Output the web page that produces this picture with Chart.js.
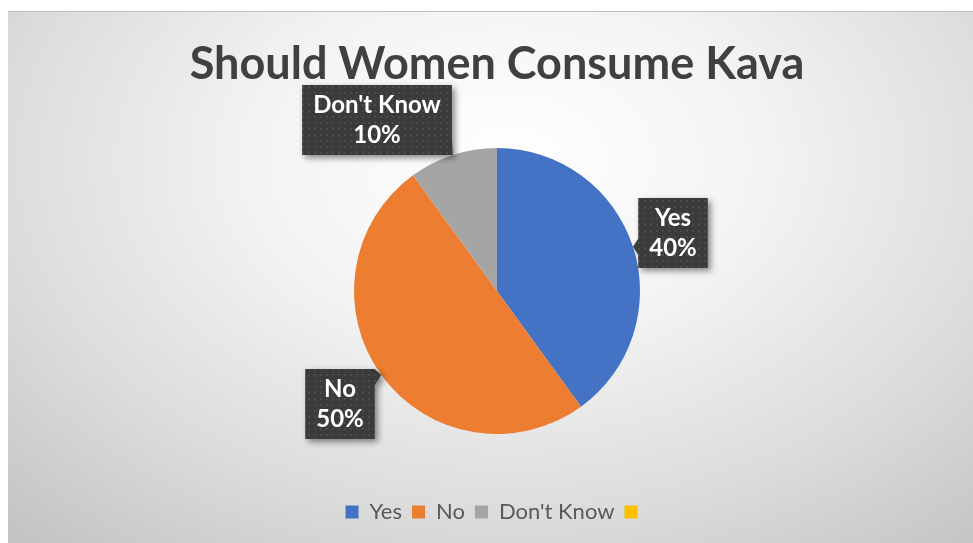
<!DOCTYPE html>
<html>
<head>
<meta charset="utf-8">
<script src="https://cdn.jsdelivr.net/npm/chart.js@4"></script>
<style>
  html, body { margin: 0; padding: 0; background: #fff; }
  #frame {
    position: absolute; left: 8px; top: 11px; width: 965px; height: 532px;
    border-top: 1px solid #bdbdbd; box-sizing: border-box;
    background: radial-gradient(ellipse 75% 95% at 52% 28%, #ffffff 0%, #f3f3f3 35%, #dcdcdc 70%, #c4c4c4 100%);
  }
  #wrap { position: absolute; left: 0; top: 0; width: 973px; height: 543px; }
</style>
</head>
<body>
<div id="frame"></div>
<div id="wrap"><canvas id="kava"></canvas></div>
<script>
// données
const categories = ['Yes', 'No', "Don't Know", ''];
const shares = [40, 50, 10, 0];
const sliceColors = ['#4472C4', '#ED7D31', '#A5A5A5', '#FFC000'];

// motif pointillé des étiquettes
function dotPattern(ctx) {
  const c = document.createElement('canvas');
  c.width = 6; c.height = 6;
  const g = c.getContext('2d');
  g.fillStyle = '#3b3b3b';
  g.fillRect(0, 0, 6, 6);
  g.fillStyle = '#4b4b4b';
  g.fillRect(2, 2, 2, 2);
  return ctx.createPattern(c, 'repeat');
}

// étiquettes "bulle" façon Excel
const callouts = {
  id: 'callouts',
  afterDatasetsDraw(chart, args, opts) {
    const ctx = chart.ctx;
    const meta = chart.getDatasetMeta(0);
    const fill = dotPattern(ctx);
    meta.data.forEach((arc, i) => {
      const v = shares[i];
      if (!v) return;
      const p = arc.getProps(['x', 'y', 'startAngle', 'endAngle', 'outerRadius'], true);
      const mid = (p.startAngle + p.endAngle) / 2;
      const ax = p.x + Math.cos(mid) * p.outerRadius;
      const ay = p.y + Math.sin(mid) * p.outerRadius;
      const [ox, oy] = opts.offsets[i];
      const cx = p.x + ox, cy = p.y + oy;

      ctx.save();
      ctx.font = 'bold 24px Lato';
      const lines = [categories[i], v + '%'];
      const w = Math.max(...lines.map(t => ctx.measureText(t).width)) + 22;
      const h = 70;
      const l = cx - w / 2, r = cx + w / 2, t = cy - h / 2, b = cy + h / 2;

      // côté du pointeur
      const d = { left: l - ax, right: ax - r, top: t - ay, bottom: ay - b };
      const side = Object.keys(d).reduce((a, k) => d[k] > d[a] ? k : a, 'left');
      const clamp = (val, lo, hi) => Math.max(lo, Math.min(hi, val));
      const half = 8;

      ctx.beginPath();
      ctx.moveTo(l, t);
      if (side === 'top') {
        const m = clamp(ax, l + half, r - half);
        ctx.lineTo(m - half, t); ctx.lineTo(ax, ay); ctx.lineTo(m + half, t);
      }
      ctx.lineTo(r, t);
      if (side === 'right') {
        const m = clamp(ay, t + half, b - half);
        ctx.lineTo(r, m - half); ctx.lineTo(ax, ay); ctx.lineTo(r, m + half);
      }
      ctx.lineTo(r, b);
      if (side === 'bottom') {
        const m = clamp(ax, l + half, r - half);
        ctx.lineTo(m + half, b); ctx.lineTo(ax, ay); ctx.lineTo(m - half, b);
      }
      ctx.lineTo(l, b);
      if (side === 'left') {
        const m = clamp(ay, t + half, b - half);
        ctx.lineTo(l, m + half); ctx.lineTo(ax, ay); ctx.lineTo(l, m - half);
      }
      ctx.closePath();

      ctx.shadowColor = 'rgba(0,0,0,0.45)';
      ctx.shadowBlur = 6;
      ctx.shadowOffsetX = 3;
      ctx.shadowOffsetY = 3;
      ctx.fillStyle = fill;
      ctx.fill();
      ctx.shadowColor = 'transparent';

      ctx.fillStyle = '#ffffff';
      ctx.textAlign = 'center';
      ctx.textBaseline = 'middle';
      ctx.fillText(lines[0], cx, cy - 15);
      ctx.fillText(lines[1], cx, cy + 15);
      ctx.restore();
    });
  }
};

new Chart(document.getElementById('kava'), {
  type: 'pie',
  data: {
    labels: categories,
    datasets: [{
      data: shares,
      backgroundColor: sliceColors,
      borderWidth: 0,
      hoverOffset: 0,
      radius: 143,
    }]
  },
  options: {
    animation: false,
    responsive: true,
    maintainAspectRatio: false,
    events: [],
    layout: { padding: { left: 21, right: 0, top: 0, bottom: 10 } },
    plugins: {
      tooltip: { enabled: false },
      title: {
        display: true,
        text: 'Should Women Consume Kava',
        color: '#404040',
        font: { family: 'Lato', size: 45, weight: 'bold' },
        padding: { top: 37, bottom: 0 },
      },
      legend: {
        position: 'bottom',
        labels: {
          color: '#595959',
          font: { family: 'Lato', size: 22 },
          boxWidth: 13,
          boxHeight: 13,
          padding: 10,
        }
      },
      callouts: {
        offsets: [[176, -58], [-157, 113], [-120, -171]]
      }
    }
  },
  plugins: [callouts]
});
</script>
</body>
</html>
